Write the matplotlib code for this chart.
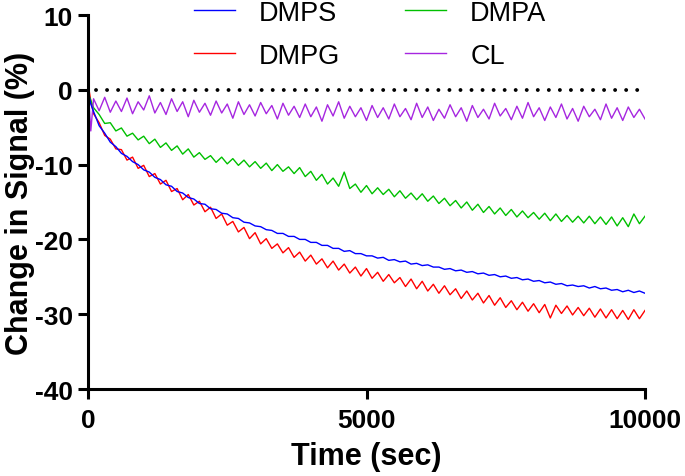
import numpy as np
import matplotlib
matplotlib.use("Agg")
import matplotlib.pyplot as plt

plt.rcParams["font.family"] = ["Liberation Sans", "DejaVu Sans"]
plt.rcParams["axes.unicode_minus"] = False

# time grid (sec): a few early samples, then every 100 s
time_s = [0, 25, 50] + list(range(100, 10001, 100))

# ── series (change in signal, %) ────────────────────────────────────
dmps = [0.5, -1.0, -1.9, -2.9, -4.8, -5.8, -7.0, -7.6, -8.5, -8.9, -9.6, -10.0,
        -10.7, -11.0, -11.7, -12.0, -12.7, -12.9, -13.6, -13.8, -14.4, -14.6,
        -15.2, -15.3, -15.9, -16.0, -16.5, -16.6, -17.1, -17.2, -17.7, -17.8,
        -18.2, -18.3, -18.7, -18.8, -19.2, -19.2, -19.6, -19.6, -20.0, -20.0,
        -20.4, -20.4, -20.8, -20.8, -21.2, -21.2, -21.6, -21.5, -21.9, -21.9,
        -22.2, -22.2, -22.5, -22.4, -22.8, -22.7, -23.0, -22.9, -23.3, -23.2,
        -23.5, -23.4, -23.7, -23.7, -24.0, -23.9, -24.2, -24.1, -24.4, -24.3,
        -24.6, -24.5, -24.8, -24.7, -25.0, -24.9, -25.2, -25.1, -25.4, -25.3,
        -25.6, -25.5, -25.8, -25.7, -26.0, -25.9, -26.2, -26.1, -26.3, -26.2,
        -26.5, -26.3, -26.6, -26.5, -26.8, -26.7, -27.0, -26.8, -27.1, -26.9,
        -27.2]
dmpg = [1.3, -0.3, -1.5, -3.2, -4.4, -6.1, -6.6, -7.9, -8.0, -9.4, -9.0, -10.5,
        -10.1, -11.6, -11.2, -12.6, -12.1, -13.6, -13.2, -14.7, -14.0, -15.4,
        -14.9, -16.3, -15.7, -17.2, -16.6, -18.1, -17.6, -19.0, -18.4, -19.9,
        -19.1, -20.6, -19.9, -21.2, -20.6, -21.8, -21.1, -22.4, -21.7, -22.9,
        -22.1, -23.3, -22.6, -23.8, -22.9, -24.1, -23.3, -24.5, -23.7, -24.9,
        -23.9, -25.2, -24.4, -25.6, -24.7, -25.8, -25.1, -26.3, -25.3, -26.6,
        -25.6, -26.9, -26.0, -27.2, -26.2, -27.4, -26.6, -27.9, -26.9, -28.1,
        -27.2, -28.5, -27.5, -28.8, -27.8, -29.1, -28.2, -29.4, -28.4, -29.6,
        -28.6, -29.8, -28.7, -30.5, -28.8, -29.9, -28.9, -30.1, -29.1, -30.2,
        -29.2, -30.4, -29.3, -30.5, -29.4, -30.6, -29.5, -30.7, -29.4, -30.6,
        -29.5]
dmpa = [0.0, -0.9, -1.4, -2.4, -3.3, -4.5, -4.4, -5.5, -5.1, -6.2, -5.8, -6.7,
        -6.2, -7.2, -6.6, -7.7, -7.1, -8.1, -7.5, -8.6, -7.9, -9.0,
        -8.4, -9.3, -8.8, -9.7, -9.0, -9.9, -9.2, -10.1, -9.4, -10.3,
        -9.6, -10.5, -9.8, -10.8, -10.0, -10.9, -10.3, -11.2, -10.4, -11.6,
        -10.9, -12.1, -11.3, -12.6, -11.8, -12.9, -11.0, -13.2, -12.6, -13.7,
        -12.8, -13.9, -13.1, -14.0, -13.3, -14.3, -13.5, -14.5, -13.8, -14.7,
        -13.9, -14.9, -14.2, -15.2, -14.5, -15.5, -14.8, -15.8, -15.0, -16.1,
        -15.3, -16.4, -15.6, -16.6, -15.8, -16.8, -16.0, -17.0, -16.2, -17.1,
        -16.4, -17.3, -16.5, -17.5, -16.6, -17.6, -16.8, -17.7, -16.9, -17.8,
        -16.9, -17.9, -17.0, -18.0, -17.0, -18.2, -17.1, -18.3, -16.6, -17.9,
        -16.9]
cl = [0.3, -2.5, -5.5, -1.2, -2.8, -1.0, -3.0, -1.5, -2.9, -1.1, -3.2, -1.6,
      -2.7, -0.8, -3.1, -1.7, -3.3, -1.2, -2.9, -1.6, -3.6, -1.4,
      -3.0, -1.8, -3.4, -1.5, -3.1, -1.9, -3.8, -1.6, -3.3, -2.0,
      -3.5, -1.7, -3.2, -2.1, -3.9, -1.8, -3.4, -2.2, -3.7, -1.9,
      -3.6, -2.3, -4.2, -2.0, -3.5, -1.6, -3.8, -2.2, -3.6, -2.4,
      -4.1, -2.1, -3.7, -2.4, -3.9, -1.9, -3.6, -2.5, -4.0, -1.8,
      -3.7, -2.3, -4.1, -2.6, -3.8, -2.0, -3.6, -2.4, -4.2, -2.1,
      -3.7, -2.6, -3.9, -1.8, -3.5, -2.5, -4.0, -2.2, -3.8, -1.7,
      -3.6, -2.4, -4.1, -2.3, -3.7, -1.9, -3.9, -2.5, -4.2, -2.2,
      -3.6, -2.6, -4.0, -1.9, -3.8, -2.4, -4.1, -2.3, -3.7, -2.6,
      -3.9]

labels = ["DMPS", "DMPG", "DMPA", "CL"]
colors = {"DMPS": "#0000FF", "DMPG": "#FF0000", "DMPA": "#00C000", "CL": "#A626E0"}
y_ticks = [-40, -30, -20, -10, 0, 10]
x_ticks = [0, 5000, 10000]

fig = plt.figure(figsize=(6.85, 4.77), dpi=100)
ax = fig.add_axes([88 / 685, 1 - 390 / 477, 557 / 685, 374 / 477])

series = {"DMPS": dmps, "DMPG": dmpg, "DMPA": dmpa, "CL": cl}
handles = {}
for name in ["DMPG", "DMPA", "CL", "DMPS"]:
    h, = ax.plot(time_s, series[name], color=colors[name], lw=1.0, label=name)
    handles[name] = h

ax.axhline(0, xmin=0.015, color="black", lw=2.8, ls=(0, (0.01, 2.83)),
           dash_capstyle="round", zorder=5)

ax.set_xlim(0, 10000)
ax.set_ylim(-40, 10)
ax.set_xticks(x_ticks)
ax.set_yticks(y_ticks)
for s in ["top", "right"]:
    ax.spines[s].set_visible(False)
for s in ["left", "bottom"]:
    ax.spines[s].set_linewidth(2.2)
ax.tick_params(direction="out", length=7, width=2.2, labelsize=19)
ax.tick_params(axis="x", pad=7)
ax.tick_params(axis="y", pad=4)
for lab in ax.get_xticklabels() + ax.get_yticklabels():
    lab.set_fontweight("bold")

ax.set_xlabel("Time (sec)", fontsize=22, fontweight="bold", labelpad=6)
ax.set_ylabel("Change in Signal (%)", fontsize=22, fontweight="bold")
ax.yaxis.set_label_coords(-0.095, 0.5)

fig.legend([handles[n] for n in labels], labels, loc="upper left",
           bbox_to_anchor=(194 / 685, 0.998), ncol=2, frameon=False,
           fontsize=19.5, handlelength=1.5, handletextpad=0.9,
           columnspacing=2.4, labelspacing=0.62, borderpad=0, borderaxespad=0)

fig.savefig("out.png", dpi=100)
